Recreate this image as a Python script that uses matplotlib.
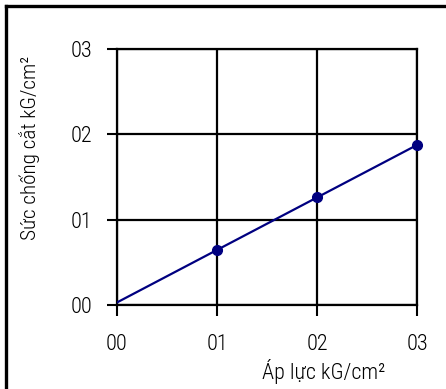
import matplotlib.pyplot as plt
from matplotlib.lines import Line2D

# values
pressure = [1, 2, 3]
shear = [0.65, 1.26, 1.87]
fit_x = [0, 3]
fit_y = [0.03, 1.875]
ticks = [0, 1, 2, 3]
tick_labels = ['00', '01', '02', '03']

plt.rcParams['font.family'] = ['Roboto Condensed', 'DejaVu Sans']
plt.rcParams['font.weight'] = 'light'

fig = plt.figure(figsize=(4.46, 3.89), dpi=100)
ax = fig.add_axes([117 / 446, 1 - 305 / 389, 300 / 446, 256 / 389])

ax.plot(fit_x, fit_y, color='#000080', linewidth=1.6, zorder=3)
ax.plot(pressure, shear, 'o', color='#000080', markersize=7, zorder=4, clip_on=False)

ax.set_xlim(0, 3)
ax.set_ylim(0, 3)
ax.set_xticks(ticks)
ax.set_yticks(ticks)
ax.set_xticklabels(tick_labels, fontsize=16)
ax.set_yticklabels(tick_labels, fontsize=16)
ax.tick_params(axis='x', length=8, width=1.5, pad=13)
ax.tick_params(axis='y', length=7, width=1.5, pad=11)
ax.grid(True, color='black', linewidth=1.6)
ax.set_axisbelow(True)
for s in ax.spines.values():
    s.set_linewidth(1.6)

fig.text(30 / 446, 1 - 148 / 389, 'Sức chống cắt kG/cm²', rotation=90,
         ha='center', va='center', fontsize=15.3)
fig.text(324 / 446, 1 - 372 / 389, 'Áp lực kG/cm²', ha='center', va='center', fontsize=15.8)

# cropped frame around the figure
fig.add_artist(Line2D([5.5 / 446, 5.5 / 446], [0, 1 - 5.5 / 389], color='black', linewidth=2.4,
                      transform=fig.transFigure))
fig.add_artist(Line2D([5.5 / 446, 1], [1 - 5.5 / 389, 1 - 5.5 / 389], color='black', linewidth=2.4,
                      transform=fig.transFigure))

fig.savefig('out.png', dpi=100)
